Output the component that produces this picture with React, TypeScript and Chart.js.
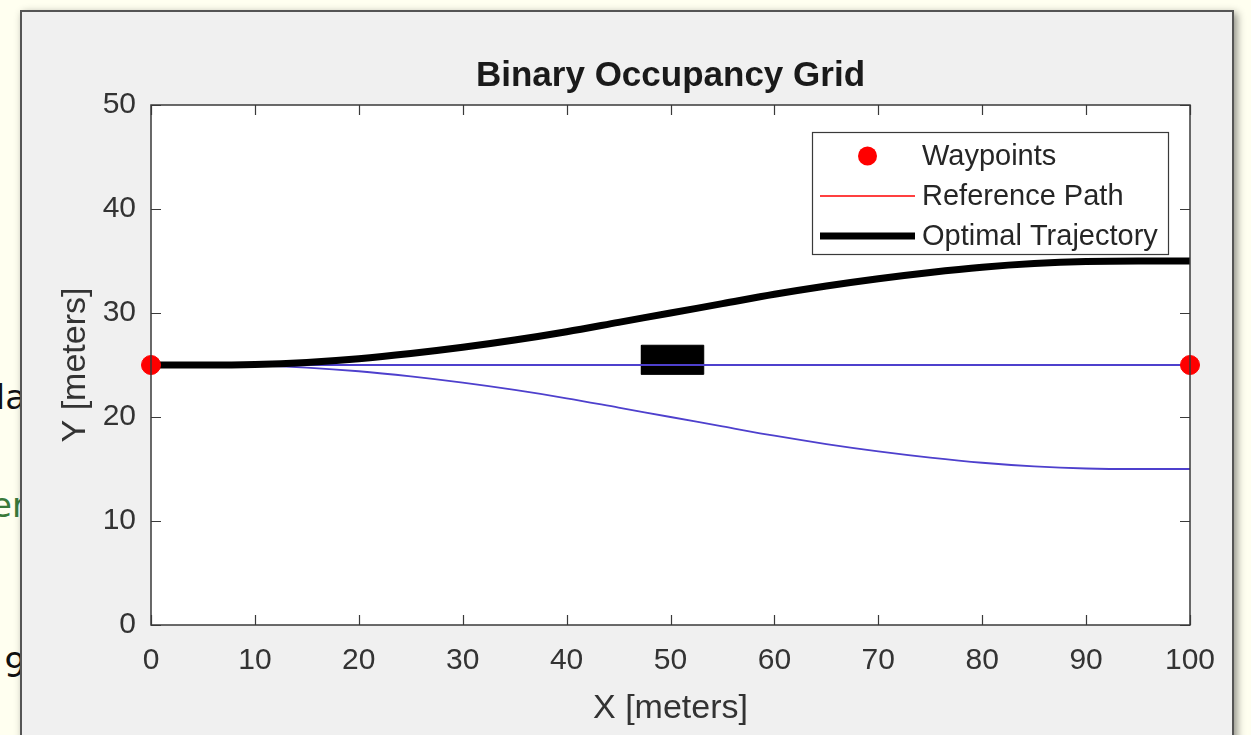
import { useEffect, useRef } from "react";
import { Chart, registerables } from "chart.js";

Chart.register(...registerables);

// Axis ticks
const xTicks = [0, 10, 20, 30, 40, 50, 60, 70, 80, 90, 100];
const yTicks = [0, 10, 20, 30, 40, 50];

// Start and goal waypoints
const waypointX = [0, 100];
const waypointY = [25, 25];

// Straight reference path between the waypoints
const refPathX = [0, 100];
const refPathY = [25, 25];

// Sample stations along X for the trajectories
const pathX = [0, 5, 10, 15, 20, 25, 30, 35, 40, 45, 50, 55, 60, 65, 70, 75, 80, 85, 90, 95, 100];

// Selected (optimal) trajectory: lane change up to Y = 35
const optimalY = [25, 25, 25.05, 25.25, 25.6, 26.1, 26.7, 27.4, 28.2, 29.1, 30.0, 30.9, 31.8, 32.6, 33.3, 33.9, 34.4, 34.75, 34.95, 35, 35];

// Other candidate trajectories
const candStraightX = [0, 100];
const candStraightY = [25, 25];
const candLowerY = [25, 25, 24.95, 24.75, 24.4, 23.9, 23.3, 22.6, 21.8, 20.9, 20.0, 19.1, 18.2, 17.4, 16.7, 16.1, 15.6, 15.25, 15.05, 15, 15];

// Occupied cells (obstacle outline)
const obstacleX = [47.2, 53.2, 53.2, 47.2, 47.2];
const obstacleY = [24.1, 24.1, 26.9, 26.9, 24.1];

const FONT = "'Liberation Sans', Arial, Helvetica, sans-serif";
const AXIS_COLOR = "#3a3a3a";
const CAND_COLOR = "rgb(78, 64, 205)";

const zip = (xs: number[], ys: number[]) => xs.map((x, i) => ({ x, y: ys[i] }));

const legendItems = [
  { label: "Waypoints", kind: "point", color: "#ff0000" },
  { label: "Reference Path", kind: "line", color: "#ff0000", width: 1.5 },
  { label: "Optimal Trajectory", kind: "line", color: "#000000", width: 7 },
];

const plotBackground = {
  id: "plotBackground",
  beforeDatasetsDraw(chart: any) {
    const { ctx, chartArea: a } = chart;
    ctx.save();
    ctx.fillStyle = "#ffffff";
    ctx.fillRect(a.left, a.top, a.right - a.left, a.bottom - a.top);
    ctx.restore();
  },
};

// Box around the axes with inward tick marks on all four sides
const axesBox = {
  id: "axesBox",
  afterDatasetsDraw(chart: any) {
    const { ctx, chartArea: a, scales } = chart;
    const len = 10;
    ctx.save();
    ctx.strokeStyle = AXIS_COLOR;
    ctx.lineWidth = 1.2;
    ctx.beginPath();
    xTicks.forEach((v) => {
      const px = Math.round(scales.x.getPixelForValue(v)) + 0.5;
      ctx.moveTo(px, a.bottom);
      ctx.lineTo(px, a.bottom - len);
      ctx.moveTo(px, a.top);
      ctx.lineTo(px, a.top + len);
    });
    yTicks.forEach((v) => {
      const py = Math.round(scales.y.getPixelForValue(v)) + 0.5;
      ctx.moveTo(a.left, py);
      ctx.lineTo(a.left + len, py);
      ctx.moveTo(a.right, py);
      ctx.lineTo(a.right - len, py);
    });
    ctx.stroke();
    ctx.lineWidth = 1.5;
    ctx.strokeRect(a.left, a.top, a.right - a.left, a.bottom - a.top);
    ctx.restore();
  },
};

// Legend drawn inside the plot, top-right corner
const boxLegend = {
  id: "boxLegend",
  afterDraw(chart: any) {
    const { ctx, chartArea: a } = chart;
    const w = 356;
    const h = 122;
    const x0 = a.right - 22 - w;
    const y0 = a.top + 27;
    ctx.save();
    ctx.fillStyle = "#ffffff";
    ctx.fillRect(x0, y0, w, h);
    ctx.strokeStyle = "#3a3a3a";
    ctx.lineWidth = 1.2;
    ctx.strokeRect(x0 + 0.5, y0 + 0.5, w, h);
    const rows = [y0 + 24, y0 + 64, y0 + 104];
    const lineL = x0 + 8;
    const lineR = x0 + 103;
    ctx.font = `29px ${FONT}`;
    ctx.textBaseline = "middle";
    ctx.textAlign = "left";
    legendItems.forEach((item, i) => {
      const y = rows[i];
      if (item.kind === "point") {
        ctx.fillStyle = item.color;
        ctx.beginPath();
        ctx.arc((lineL + lineR) / 2, y, 9.5, 0, Math.PI * 2);
        ctx.fill();
      } else {
        ctx.strokeStyle = item.color;
        ctx.lineWidth = item.width as number;
        ctx.beginPath();
        ctx.moveTo(lineL, y);
        ctx.lineTo(lineR, y);
        ctx.stroke();
      }
      ctx.fillStyle = "#262626";
      ctx.fillText(item.label, x0 + 110, y + 1);
    });
    ctx.restore();
  },
};

export default function App() {
  const canvasRef = useRef<HTMLCanvasElement | null>(null);

  useEffect(() => {
    const canvas = canvasRef.current;
    if (!canvas) return;
    const chart = new Chart(canvas, {
      type: "scatter",
      data: {
        datasets: [
          {
            label: "Waypoints",
            data: zip(waypointX, waypointY),
            backgroundColor: "#ff0000",
            borderColor: "#ff0000",
            pointRadius: 9.5,
            pointHoverRadius: 9.5,
            showLine: false,
            clip: false,
          },
          {
            label: "Optimal Trajectory",
            data: zip(pathX, optimalY),
            borderColor: "#000000",
            borderWidth: 7,
            showLine: true,
            pointRadius: 0,
            cubicInterpolationMode: "monotone",
            clip: 6,
          },
          {
            label: "Candidate straight",
            data: zip(candStraightX, candStraightY),
            borderColor: CAND_COLOR,
            borderWidth: 1.8,
            showLine: true,
            pointRadius: 0,
          },
          {
            label: "Candidate lower",
            data: zip(pathX, candLowerY),
            borderColor: CAND_COLOR,
            borderWidth: 1.8,
            showLine: true,
            pointRadius: 0,
            cubicInterpolationMode: "monotone",
          },
          {
            label: "Reference Path",
            data: zip(refPathX, refPathY),
            borderColor: "#ff0000",
            borderWidth: 1.5,
            showLine: true,
            pointRadius: 0,
          },
          {
            label: "Obstacle",
            data: zip(obstacleX, obstacleY),
            borderColor: "#000000",
            backgroundColor: "#000000",
            borderWidth: 1,
            showLine: true,
            fill: "shape",
            pointRadius: 0,
            tension: 0,
          },
        ],
      },
      options: {
        animation: false,
        responsive: false,
        devicePixelRatio: 1,
        events: [],
        layout: { padding: { left: 0, right: 61, top: 0, bottom: 0 } },
        plugins: {
          legend: { display: false },
          tooltip: { enabled: false },
          title: {
            display: true,
            fullSize: false,
            text: "Binary Occupancy Grid",
            color: "#1a1a1a",
            font: { family: FONT, size: 35, weight: "bold" },
            padding: { top: 55, bottom: 8 },
          },
        },
        scales: {
          x: {
            type: "linear",
            min: 0,
            max: 100,
            afterBuildTicks: (s: any) => {
              s.ticks = xTicks.map((v) => ({ value: v }));
            },
            afterFit: (s: any) => {
              s.height = 110;
            },
            ticks: {
              color: "#333333",
              font: { family: FONT, size: 30 },
              padding: 18,
              maxRotation: 0,
              autoSkip: false,
            },
            grid: { display: false, drawTicks: false },
            border: { display: false },
            title: {
              display: true,
              text: "X [meters]",
              color: "#333333",
              font: { family: FONT, size: 34 },
              padding: { top: 0, bottom: 6 },
            },
          },
          y: {
            type: "linear",
            min: 0,
            max: 50,
            afterBuildTicks: (s: any) => {
              s.ticks = yTicks.map((v) => ({ value: v }));
            },
            afterFit: (s: any) => {
              s.width = 151;
            },
            ticks: {
              color: "#333333",
              font: { family: FONT, size: 30 },
              padding: 15,
              autoSkip: false,
            },
            grid: { display: false, drawTicks: false },
            border: { display: false },
            title: {
              display: true,
              text: "Y [meters]",
              color: "#333333",
              font: { family: FONT, size: 34 },
              padding: { top: 55, bottom: 0 },
            },
          },
        },
      },
      plugins: [plotBackground, axesBox, boxLegend],
    } as any);
    return () => chart.destroy();
  }, []);

  const frag = (text: string, top: number, color: string) => (
    <div
      style={{
        position: "absolute",
        left: -60,
        width: 86,
        top,
        textAlign: "right",
        fontFamily: "'DejaVu Sans', sans-serif",
        fontSize: 34,
        color,
        lineHeight: "40px",
      }}
    >
      {text}
    </div>
  );

  return (
    <div
      style={{
        position: "fixed",
        left: 0,
        top: 0,
        width: 1251,
        height: 735,
        overflow: "hidden",
        background: "#fffff0",
      }}
    >
      {frag("da", 377, "#111111")}
      {frag("er", 485, "#3a7a3a")}
      {frag("9", 645, "#111111")}
      <div
        style={{
          position: "absolute",
          left: 20,
          top: 10,
          width: 1210,
          height: 740,
          background: "#f0f0f0",
          borderLeft: "2px solid #555555",
          borderTop: "2px solid #555555",
          borderRight: "2px solid #555555",
          boxShadow: "3px 3px 8px rgba(0,0,0,0.45)",
        }}
      />
      <canvas
        ref={canvasRef}
        width={1251}
        height={735}
        style={{ position: "absolute", left: 0, top: 0, width: 1251, height: 735 }}
      />
    </div>
  );
}
